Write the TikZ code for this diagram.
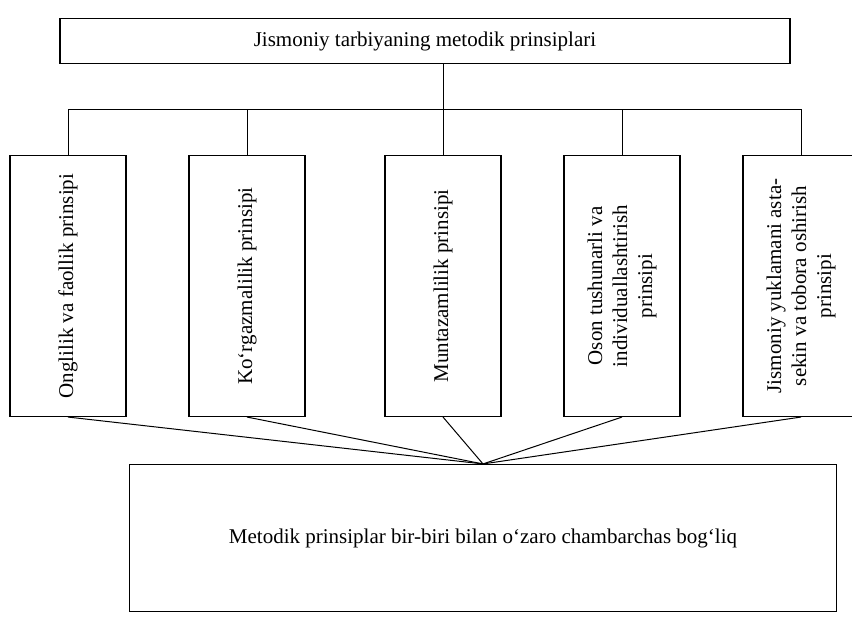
\documentclass[tikz,border=0pt]{standalone}
\usepackage{fontspec}
\setmainfont{Liberation Serif}
\usepackage{graphicx}
\usetikzlibrary{positioning, calc}

\begin{document}
\begin{tikzpicture}[
  x=1pt, y=-1pt,
  box/.style  = {draw, line width=1.1pt, align=center, inner sep=0pt},
  post/.style = {box, minimum width=116pt, minimum height=261pt},
  link/.style = {line width=1pt},
  font=\fontsize{21}{25}\selectfont
]
  \useasboundingbox (0,0) rectangle (852,628);

  % Title box
  \node[box, minimum width=730pt, minimum height=45pt] (title) at (425,41)
    {Jismoniy tarbiyaning metodik prinsiplari};

  % Principle boxes, text turned upwards
  \node[post] (onglilik) at (68,286)
    {\rotatebox{90}{Onglilik va faollik prinsipi}};
  \node[post] (korgazma) at (247,286)
    {\rotatebox{90}{Ko‘rgazmalilik prinsipi}};
  \node[post] (muntazam) at (443,286)
    {\rotatebox{90}{Muntazamlilik prinsipi}};
  \node[post] (oson) at (622,286)
    {\rotatebox{90}{\begin{tabular}{@{}c@{}}
      Oson tushunarli va \\
      individuallashtirish \\
      prinsipi
    \end{tabular}}};
  \node[post] (yuklama) at (801,286)
    {\rotatebox{90}{\begin{tabular}{@{}c@{}}
      Jismoniy yuklamani asta- \\
      sekin va tobora oshirish \\
      prinsipi
    \end{tabular}}};

  % Summary box
  \node[box, minimum width=707pt, minimum height=147pt] (summary) at (483,538)
    {Metodik prinsiplar bir-biri bilan o‘zaro chambarchas bog‘liq};

  % Bus from title to the principles
  \coordinate (bus) at (0,110);
  \draw[link] (muntazam.north |- title.south) -- (muntazam.north);
  \draw[link] (onglilik.north) -- (onglilik.north |- bus)
    -- (yuklama.north |- bus) -- (yuklama.north);
  \foreach \p in {korgazma, oson}
    \draw[link] (\p.north) -- (\p.north |- bus);

  % Every principle joins the summary
  \foreach \p in {onglilik, korgazma, muntazam, oson, yuklama}
    \draw[link] (\p.south) -- (summary.north);

\end{tikzpicture}
\end{document}
